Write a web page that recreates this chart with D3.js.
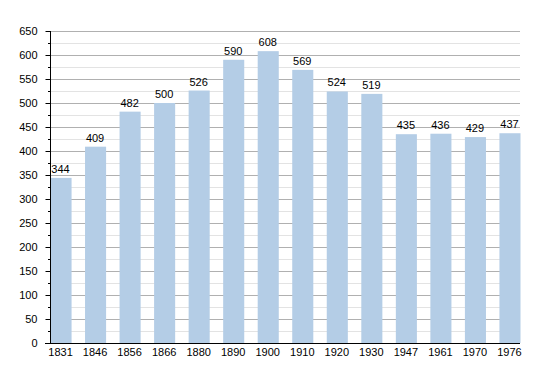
<!DOCTYPE html>
<html>
<head>
<meta charset="utf-8">
<script src="https://cdn.jsdelivr.net/npm/d3@7"></script>
<style>
  body { margin: 0; background: #fff; }
  text { font-family: "Liberation Sans", Arial, sans-serif; fill: #000; }
</style>
</head>
<body>
<div id="chart"></div>
<script>
// Population by census year
var years = ["1831", "1846", "1856", "1866", "1880", "1890", "1900", "1910", "1920", "1930", "1947", "1961", "1970", "1976"];
var population = [344, 409, 482, 500, 526, 590, 608, 569, 524, 519, 435, 436, 429, 437];
var yTicks = [0, 50, 100, 150, 200, 250, 300, 350, 400, 450, 500, 550, 600, 650];

var width = 550,
    height = 373,
    margin = {left: 50, right: 520, top: 31, bottom: 343};

var svg = d3.select("#chart").append("svg")
  .attr("width", width)
  .attr("height", height);

var x = d3.scaleBand()
  .domain(years)
  .range([margin.left, margin.right])
  .paddingInner(0.39)
  .paddingOuter(0);

var y = d3.scaleLinear().domain([0, 650]).range([margin.bottom, margin.top]);

function yPix(d) { return Math.round(y(d)) + 0.5; }

// minor grid (every 25)
var minor = d3.range(25, 650, 50);
svg.append("g").selectAll("line")
  .data(minor)
  .enter().append("line")
    .attr("x1", margin.left).attr("x2", margin.right)
    .attr("y1", yPix).attr("y2", yPix)
    .attr("stroke", "#e3e3e3");

// major grid
svg.append("g").selectAll("line")
  .data(yTicks.slice(1))
  .enter().append("line")
    .attr("x1", margin.left).attr("x2", margin.right)
    .attr("y1", yPix).attr("y2", yPix)
    .attr("stroke", "#b0b0b0");

// bars
svg.append("g").selectAll("rect")
  .data(population)
  .enter().append("rect")
    .attr("x", function(d, i) { return x(years[i]) + 0.5; })
    .attr("y", function(d) { return y(d); })
    .attr("width", x.bandwidth())
    .attr("height", function(d) { return margin.bottom - y(d); })
    .attr("fill", "#b4cde6");

// value labels
svg.append("g").selectAll("text")
  .data(population)
  .enter().append("text")
    .attr("x", function(d, i) { return x(years[i]) + x.bandwidth() / 2; })
    .attr("y", function(d) { return y(d) - 5; })
    .attr("text-anchor", "middle")
    .style("font-size", "11px")
    .text(function(d) { return d; });

// y axis
var yAxis = svg.append("g")
  .attr("transform", "translate(" + (margin.left + 0.5) + ",0)")
  .call(d3.axisLeft(y).tickValues(yTicks).tickSize(5).tickPadding(8));
yAxis.select(".domain").attr("d", "M0," + margin.top + "V" + margin.bottom).attr("stroke", "#000");
yAxis.selectAll(".tick line").attr("stroke", "#000");
yAxis.selectAll(".tick text")
  .style("font-size", "11px")
  .style("font-family", "'Liberation Sans', Arial, sans-serif")
  .attr("fill", "#000");

// minor ticks on y axis
svg.append("g").selectAll("line")
  .data(minor)
  .enter().append("line")
    .attr("x1", margin.left - 2).attr("x2", margin.left)
    .attr("y1", yPix).attr("y2", yPix)
    .attr("stroke", "#000");

// x axis
var xAxis = svg.append("g")
  .attr("transform", "translate(0," + (margin.bottom + 0.5) + ")")
  .call(d3.axisBottom(x).tickSize(0).tickPadding(5));
xAxis.select(".domain").attr("d", "M" + (margin.left - 5) + ",0H" + margin.right).attr("stroke", "#000");
xAxis.selectAll(".tick text")
  .style("font-size", "11px")
  .style("font-family", "'Liberation Sans', Arial, sans-serif")
  .attr("fill", "#000");
</script>
</body>
</html>
